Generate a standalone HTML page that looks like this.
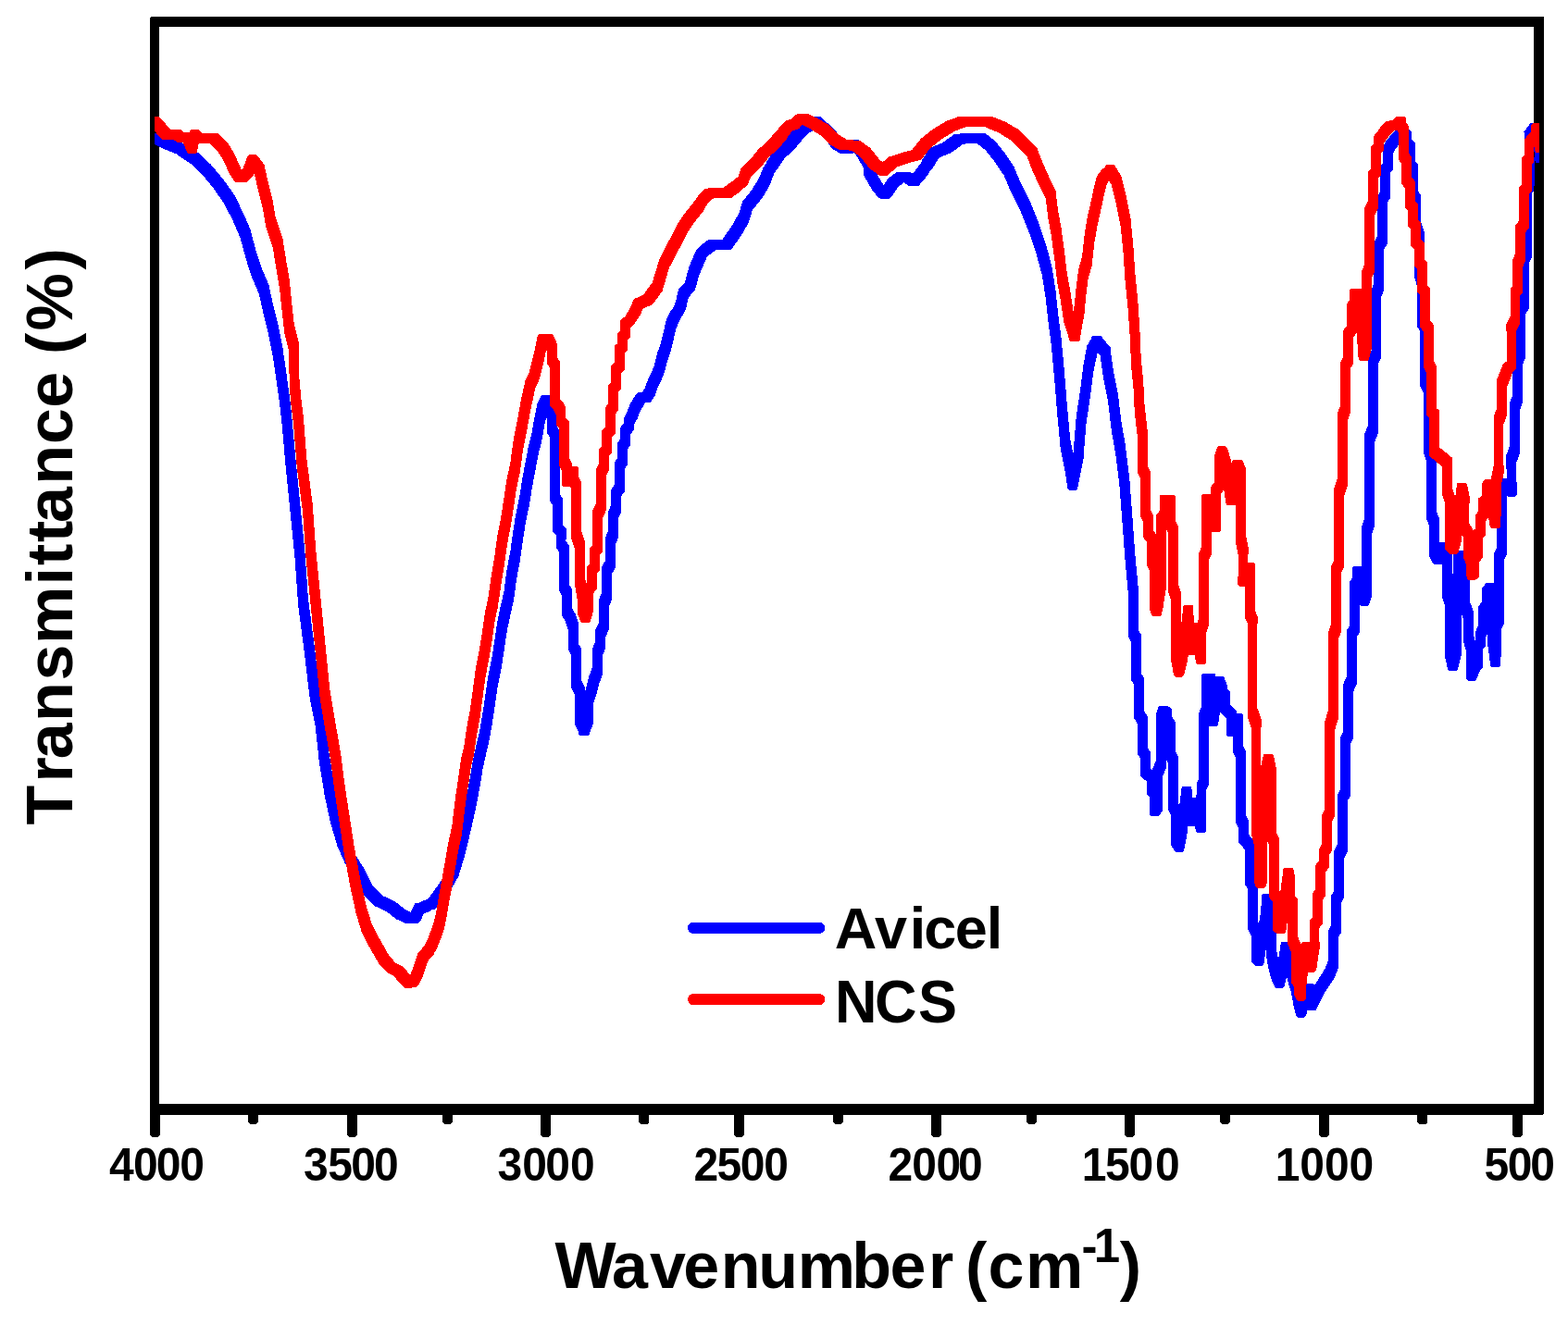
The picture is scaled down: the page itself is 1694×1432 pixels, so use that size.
<!DOCTYPE html>
<html lang="en"><head><meta charset="utf-8"><title>FTIR spectra: Avicel vs NCS</title>
<style>
html,body{margin:0;padding:0;background:#fff;}
body{width:1694px;height:1432px;overflow:hidden;}
svg{display:block;}
text{font-family:"Liberation Sans",sans-serif;font-weight:bold;fill:#000;}
</style></head><body>
<svg width="1694" height="1432" viewBox="0 0 1694 1432">
<rect x="0" y="0" width="1694" height="1432" fill="#fff"/>
<defs><clipPath id="plot"><rect x="166.9" y="23.4" width="1495.6" height="1175.6"/></clipPath></defs>
<g id="frame" fill="#000" stroke="none" shape-rendering="crispEdges">
<path fill-rule="evenodd" d="M163.6,18.1H1668V1203.2L1666.4,1204.8H162V19.7ZM171.95,28.9V1193.1H1657.2V28.9Z"/>
<path d="M162.00,1200H172.80V1226.9L170.80,1228.9H164.00L162.00,1226.9Z"/>
<path d="M374.90,1200H385.70V1226.9L383.70,1228.9H376.90L374.90,1226.9Z"/>
<path d="M584.00,1200H594.80V1226.9L592.80,1228.9H586.00L584.00,1226.9Z"/>
<path d="M793.00,1200H803.80V1226.9L801.80,1228.9H795.00L793.00,1226.9Z"/>
<path d="M1006.00,1200H1016.80V1226.9L1014.80,1228.9H1008.00L1006.00,1226.9Z"/>
<path d="M1215.00,1200H1225.80V1226.9L1223.80,1228.9H1217.00L1215.00,1226.9Z"/>
<path d="M1425.20,1200H1436.00V1226.9L1434.00,1228.9H1427.20L1425.20,1226.9Z"/>
<path d="M1634.20,1200H1645.00V1226.9L1643.00,1228.9H1636.20L1634.20,1226.9Z"/>
<path d="M268.10,1200H278.90V1213.0L276.90,1215.0H270.10L268.10,1213.0Z"/>
<path d="M478.10,1200H488.90V1213.0L486.90,1215.0H480.10L478.10,1213.0Z"/>
<path d="M690.40,1200H701.20V1213.0L699.20,1215.0H692.40L690.40,1213.0Z"/>
<path d="M900.00,1200H910.80V1213.0L908.80,1215.0H902.00L900.00,1213.0Z"/>
<path d="M1109.10,1200H1119.90V1213.0L1117.90,1215.0H1111.10L1109.10,1213.0Z"/>
<path d="M1318.10,1200H1328.90V1213.0L1326.90,1215.0H1320.10L1318.10,1213.0Z"/>
<path d="M1531.20,1200H1542.00V1213.0L1540.00,1215.0H1533.20L1531.20,1213.0Z"/>
</g>
<g id="curves" fill-rule="evenodd" stroke="none" shape-rendering="crispEdges">
<path fill="#0000ff" d="M190.8,166.8L205.6,176.6L217.2,187.3L229.3,201.8L241.7,219.2L241.9,219.4L251.9,239.2L259.3,256.6L259.5,256.8L265.4,278.8L265.4,279L271.8,298.8L271.8,299.1L279.3,316.6L279.6,316.8L284.5,338.9L289.5,359L294.5,383.9L294.6,384L298.6,411.3L302.1,436.4L304.6,458.8L308.6,503.8L318.6,603.8L322.1,652.9L322.1,653.8L328.6,703.8L334.5,753.2L334.5,753.9L340.5,783.9L340.6,784L344.5,820.8L344.5,821.4L350.5,858.5L350.5,858.9L356.9,888.6L356.9,889L364.3,913.7L364.3,914.1L372.2,931.9L372.2,932.2L381.9,946.8L391.7,966.4L391.7,966.7L393.3,968.3L405.8,979.8L406.1,979.8L418.2,985.6L428.1,993.5L428.7,993.5L437.1,997.8L443.8,997.8L443.9,997.9L452.1,997.9L453.7,996.3L458.4,986.6L460.3,986.6L465.8,983.9L465.9,983.7L468.9,982.6L470,982.6L471.6,981L476.4,975.8L476.7,975.8L478.3,974.2L486.8,962.2L486.8,962.1L495.7,946.6L495.7,945.9L503.1,921.5L503.1,921.2L509.5,893.9L515.5,866.4L519.5,843.9L521.9,829L522,828.9L524.9,815.9L528.9,798.9L528.9,798.5L532,780.9L534.8,761.8L537.8,741L537.9,740.9L542,720.9L542,720.5L544.8,701.8L547.9,681L548,680.9L552,661.9L555.3,647.9L555.3,647.1L558,626L558.1,625.9L562.1,604.9L562.1,604.5L564.9,583.9L567.9,565L572.1,544.9L574.9,526.9L578.1,509.9L582.1,489L585.3,476.9L585.3,476.5L588,460.9L590.2,450.3L591,454.9L591.2,455.1L591.2,468.7L594.2,472.7L594.2,541.2L597.1,546.3L597.1,574.7L601,578.8L601,592.7L604.1,596.2L604.1,638.7L607.2,643.8L607.2,657L607,657.1L607,664.9L610.9,671.8L613.9,680.9L614.1,681L614.1,702.7L617.2,707.8L617.2,734.9L617,735.1L617,742.9L621,750.9L621.2,751.1L621.2,775.1L621.1,775.2L621.1,782.8L624,788.8L624.2,789L625.4,792.4L625.4,793.5L627,795.1L635,795.1L636.6,793.5L640.8,782L640.8,774L640.5,773.7L640.5,761.1L640.7,760.9L643.9,752L644,751.9L647.3,738.9L651,728.9L651,721.1L650.8,720.8L650.8,709L650.9,708.8L653.9,700.8L653.9,693.2L653.8,693L653.8,689.1L654,688.9L657.7,680.9L657.7,673.1L657.5,672.9L657.5,655.9L657.7,655.8L660.7,648.8L660.7,641.2L660.5,641.1L660.5,621L660.7,620.9L664.7,613.9L664.7,606.1L664.5,606L664.5,588.9L664.7,588.8L667.7,581.8L667.7,574.2L667.5,574.1L667.5,561L667.7,560.8L670.9,553.8L670.9,546.2L670.8,546L670.8,536.9L674.8,531.3L674.8,523.7L674.7,523.6L674.7,506.7L677.8,502.7L677.8,485.7L680.8,481.7L680.8,469.9L684.8,464.8L684.8,458.7L687.5,454.3L688,453.9L691,445.9L694.9,438.9L694.9,438.7L697.3,434.8L702.3,434.8L703.9,433.2L707.9,426.9L711,417.9L714.9,409.9L714.9,409.7L717.9,402.1L718,401.9L721,390L725,379L725,378.7L727.9,365.9L730.7,354.1L730.8,354L735.6,344L735.6,343.3L736.8,341.7L737.7,340.8L740.8,334.2L741,333.9L744,321.1L750.8,314L750.8,313.8L755.5,296.8L755.7,296.6L763.2,279.1L763.2,278.5L765.8,275.6L766,275.6L773.6,270.2L773.8,269.9L780.4,269.9L780.8,270.4L789.2,270.4L790.8,268.8L802.7,251.7L802.7,251.5L809.5,239.1L809.5,238.5L812.9,227.1L813.3,226.7L823.3,214.2L823.3,214.1L831,201.6L831,201.3L835.9,189L835.9,188.5L838.4,184.3L839.8,182.9L848.3,170.2L853.7,165.8L854.2,165.8L855.8,164.2L865.7,152.3L874.7,143.3L880.6,139.7L893.1,151.7L897.4,159L899,160.6L907.5,166L915.5,166L915.7,165.8L921.8,165.8L922.9,165.1L926.1,169.8L929.9,176.2L933,182.3L933,188.5L936.1,194.8L943.6,207.3L944.6,208.3L947.4,211.6L949,213.2L949.1,213.2L950.9,214.7L952.8,214.7L952.8,214.8L961.2,214.8L962.8,213.2L970.7,201.8L976.5,197.3L981.4,200.8L992.3,200.8L993.9,199.2L997.3,195.2L998.5,193.9L1003.9,186.7L1003.9,186.2L1005.6,183.5L1007.3,181.9L1015,170.2L1026.2,165.8L1026.7,165.8L1039.2,156.8L1039.8,156.2L1046.3,154.8L1055.3,154.8L1055.8,155.3L1064.9,162.5L1074.3,174.3L1084.2,189.2L1084.5,189.4L1091.8,206.6L1101.8,226.6L1101.9,226.7L1111.9,251.6L1119.4,274L1119.5,274.1L1125.5,296.4L1125.6,296.6L1129.6,321.4L1132.6,348.8L1135.6,371.4L1139.1,408.8L1142.1,446.3L1145.5,482.7L1145.5,483.9L1150.5,508.9L1150.6,509L1153.3,527.7L1153.3,528.1L1154.9,529.7L1162.6,529.7L1164.2,528.1L1170.5,496.4L1170.5,494.9L1173.4,458.9L1173.4,458.8L1177.9,428.8L1181.4,401.5L1181.5,401.4L1185.5,381.6L1185.7,381.2L1188.2,384.2L1188.7,384.7L1192,408.4L1192,408.9L1197,433.9L1197.1,434L1200.5,463.3L1200.5,463.9L1204.9,488.9L1205,488.9L1209.4,523.9L1212.2,560.8L1215.4,603.8L1219,643.8L1219.1,643.9L1219.1,680.1L1219,680.2L1219,687.8L1222.2,693.9L1222.2,735.7L1225.3,739.7L1225.3,768L1225.1,768.1L1225.1,775.9L1229,782.9L1229.2,783L1229.2,815.7L1232.2,819.7L1232.2,830.9L1232,831.1L1232,838.9L1233.6,840.5L1239.1,844.5L1239.1,858.7L1240.7,860.3L1242.1,861.2L1242.1,880.8L1243.7,882.4L1251.3,882.4L1252.9,880.8L1256.1,875.8L1256,839.1L1256.3,838.9L1259.9,829.9L1259.9,822.1L1259.7,821.9L1259.7,820.3L1262.1,825.8L1262.2,825.9L1262.2,875.7L1265.3,880.8L1265.2,913.8L1268.3,918.5L1268.3,918.9L1269.9,920.5L1277.6,920.5L1279.2,918.9L1283,898.9L1283,898L1283.5,892.5L1290.5,892.5L1292,898.4L1293.6,900L1301.4,900L1303,898.4L1303,890.6L1302.9,890L1303.2,853.8L1305.9,848.7L1305.6,783.8L1306.8,784.9L1314.4,784.9L1316,783.3L1318,770L1325,776.8L1325,785.1L1324.5,785.9L1324.5,794.1L1326.1,795.7L1332.1,795.7L1332.2,813.8L1335.2,819.9L1335.2,881.1L1335.1,881.2L1335.1,888.8L1338.2,894.9L1338.2,901.6L1337.9,902L1337.9,910L1345,918.4L1344.9,955.8L1348.1,960.8L1348.1,996L1347.9,996.1L1347.9,1003.9L1351.6,1010.9L1351.8,1011L1351.8,1038.7L1354.6,1042L1354.6,1042.3L1356.2,1043.9L1363.8,1043.9L1365.4,1042.3L1367.9,1023.9L1368.2,1022.4L1368.2,1025.9L1368,1026.1L1368,1033.9L1370.9,1048.5L1370.9,1049L1374.7,1062L1375.4,1062.6L1376.5,1065.2L1376.5,1065.9L1378.1,1067.5L1385.9,1067.5L1387.5,1065.9L1390.2,1055.4L1390.9,1058.7L1390.9,1059L1394.7,1072L1394.8,1072.1L1397.9,1088.9L1398,1089L1400.1,1097.4L1400.1,1097.9L1401.7,1099.5L1409.5,1099.5L1411.1,1097.9L1412.6,1092L1413.1,1092.4L1420.7,1092.4L1422.3,1090.8L1425.1,1084.5L1425.6,1084L1430.6,1074L1430.6,1073.9L1435,1066.8L1435.7,1066.1L1442.3,1056.1L1442.3,1055.5L1445.9,1045.9L1445.9,1038.1L1445.7,1037.8L1445.7,1013.9L1448.9,1007.8L1448.9,1000.2L1448.8,1000.1L1448.8,975.9L1452,969.8L1452,962.2L1451.9,962.1L1451.9,928.1L1452.1,927.9L1455.9,919.9L1455.9,912.1L1455.7,911.9L1455.7,865.8L1458.8,860.7L1458.8,803.8L1461.9,798.7L1461.8,748.1L1462,747.9L1465.8,738.9L1465.8,731.1L1465.5,730.9L1465.5,688.8L1468.8,683.8L1468.7,653.7L1469.9,654.9L1477.6,654.9L1479.2,653.3L1482.1,643.9L1482.1,636.1L1481.9,636L1481.6,578L1481.7,577.9L1484.9,568.9L1484.9,561.1L1484.7,560.9L1484.7,478.2L1485,478L1489.1,468L1489.1,460L1488.8,459.8L1488.8,394L1488.9,393.8L1492.2,386.3L1492.2,378.7L1492,378.5L1492,321.5L1492.2,321.3L1495,313.8L1495,306.2L1494.9,306L1494.9,270L1495.1,269.9L1499.1,262.9L1499.1,255.1L1498.9,255L1498.8,218.7L1501.9,214.7L1501.9,186.4L1503.2,185.3L1504.8,183.7L1504.8,166.4L1508.3,160L1513,154.4L1514.4,153L1514.4,157.7L1518.2,161.3L1518.2,182.7L1519.8,184.3L1521.3,185.3L1521.3,213.7L1524.2,217.7L1524.2,239.7L1523.9,240L1523.9,248L1527.9,260L1528.2,260.3L1528.2,291L1528,291.1L1528,298.9L1530.8,308.9L1531,309L1530.9,352.8L1534.1,357.8L1533.8,407.9L1533.6,408.1L1533.6,415.9L1537.6,423.9L1537.8,424.1L1537.8,480.9L1537.6,481.1L1537.6,488.9L1540.8,497.9L1541,498.1L1541,552L1540.8,552.1L1540.8,559.9L1543.9,567.9L1544.1,568L1544.1,593L1543.9,593.1L1543.9,600.9L1547.6,608.1L1547.6,608.5L1549.2,610.1L1557.3,610.1L1558.2,609.2L1558.2,638L1558.1,638.2L1558.1,645.8L1560.8,653.8L1561,654L1561,699.9L1560.7,700.1L1560.7,707.9L1564,723.4L1565.6,725L1573.4,725L1575,723.4L1578.9,707.9L1578.9,700.1L1578.7,699.8L1578.7,667.8L1578.9,663.4L1581,668.9L1581.2,669.2L1581.2,686L1581.1,686.2L1581.1,693.8L1583.7,702.8L1583.8,703L1583.8,728.7L1584.3,732.8L1584.3,734.3L1585.9,735.9L1593.6,735.9L1595.2,734.3L1598.5,725.9L1598.5,725.6L1601.8,721.2L1601.8,701.5L1603.3,700.3L1604.9,698.7L1604.9,689.8L1606.6,686.1L1606.8,691.5L1606.8,693.8L1610.3,719.8L1611.9,721.4L1619.6,721.4L1621.2,719.8L1621.2,717.9L1621.8,703.7L1621.8,679.9L1624.9,673.8L1624.9,666.2L1624.8,666.1L1624.8,604.8L1627.7,599.7L1627.7,535.1L1629.2,536.6L1637.3,536.6L1638.9,535L1638.9,527L1638.6,526.6L1638.2,500L1638.3,499.9L1642,489.9L1642,482.1L1641.8,481.8L1641.8,443L1642,442.9L1645.1,434.9L1645.1,427.1L1644.9,427L1644.9,394L1645,393.8L1648,386.3L1648,378.7L1647.9,378.5L1647.9,340L1648.1,339.9L1652,332.9L1652,325.1L1651.8,325L1651.8,284.9L1651.9,284.8L1655,277.8L1655,270.2L1654.9,270.1L1654.9,208.7L1657.5,205.7L1657.6,176.3L1657.4,162.4L1658.6,174.8L1660.2,176.4L1662.5,176.4L1662.5,133.3L1662,132.8L1654,132.8L1652.4,134.4L1646.5,142.5L1646.5,150.5L1646.8,150.8L1646.8,173.7L1647,183.7L1647,198.3L1644.3,201.3L1644.3,270.1L1644.2,270.2L1641.1,277.2L1641.1,284.8L1641.2,284.9L1641.2,325L1641,325.1L1637.1,332.1L1637.1,339.9L1637.3,340L1637.3,378.5L1637.2,378.7L1634.2,386.2L1634.2,393.8L1634.3,394L1634.3,427L1634.1,427.1L1631,435.1L1631,442.9L1631.2,443L1631.2,481.8L1631,482.1L1627.2,492.1L1627.2,499.9L1627.4,500.2L1627.7,517.4L1623,517.4L1621.4,519L1621.4,519.4L1617,524.2L1617,531.8L1617.1,531.9L1617.1,592.2L1614.2,597.3L1614.2,630L1613.8,629.6L1606.2,629.6L1604.6,631.2L1600.6,636.2L1600.7,651.2L1596.9,655.3L1597,676.2L1594.2,682.2L1594.2,689.8L1594.3,689.8L1594.3,691L1593.5,691.6L1591.9,686.2L1591.8,686L1591.8,669.2L1592,668.9L1592,661.1L1588.3,651.1L1588,650.8L1588,631.8L1588.3,631.5L1588.3,623.5L1584.6,611L1584.5,610.9L1581.5,596.1L1579.9,594.5L1572.1,594.5L1570.5,596.1L1570.5,599.1L1569.2,626.3L1568.8,637.6L1568.8,588.3L1567.2,586.7L1562.4,586.7L1562,586.4L1554.7,586.4L1554.7,568L1554.9,567.9L1554.9,560.1L1551.7,552.1L1551.5,552L1551.5,498.1L1551.7,497.9L1551.7,490.1L1548.6,481.1L1548.4,480.9L1548.4,424.1L1548.6,423.9L1548.6,416.1L1544.6,408.1L1544.4,408L1544.8,350.2L1541.5,345.2L1541.5,309L1541.7,308.9L1541.7,301.1L1539,291.1L1538.8,291L1538.8,260.3L1539.1,260L1539.1,252L1535.1,240L1534.8,239.7L1534.8,210.3L1531.9,206.3L1531.9,177.3L1530.3,175.7L1528.8,174.7L1528.8,153.8L1525,150.2L1525.1,142.3L1523.5,140.7L1518.3,138.8L1517.9,138.5L1510.1,138.5L1502.5,146.1L1502.5,146.2L1497.5,152.1L1497.5,152.3L1494.1,158.7L1494.1,166.3L1494.2,166.4L1494.2,176.1L1492.9,177.2L1491.3,178.8L1491.3,207.3L1488.2,211.3L1488.3,255L1488.1,255.1L1484.1,262.1L1484.1,269.9L1484.3,270L1484.3,306L1484.2,306.2L1481.3,313.7L1481.3,321.3L1481.5,321.5L1481.5,378.5L1481.3,378.7L1478.1,386.2L1478.1,393.8L1478.2,394L1478.2,459.8L1477.9,460L1473.8,470L1473.8,478L1474.1,478.2L1474.1,560.9L1473.9,561.1L1470.8,570.1L1470.8,577.9L1470.9,578.1L1471.1,612L1465.2,612L1465,612.1L1462.8,612.1L1461.2,613.7L1461.2,624.2L1458.1,628.8L1458.1,676.2L1454.9,681.2L1455,730.9L1454.7,731.1L1451,740.1L1451,747.9L1451.2,748.1L1451.3,791.2L1448.2,796.3L1448.2,853.2L1445.1,858.3L1445.1,911.9L1444.9,912.1L1441.1,920.1L1441.1,927.9L1441.3,928.1L1441.3,962.1L1438.1,968.2L1438.1,975.8L1438.2,975.9L1438.2,1000.1L1435,1006.2L1435,1013.8L1435.1,1013.9L1435.1,1037.8L1434.9,1038.1L1431.3,1047.5L1430.9,1047.9L1424.3,1057.9L1424.3,1058.3L1420.1,1065.1L1420.1,1064.9L1418.5,1063.3L1410.3,1063.3L1408.7,1064.9L1406.7,1069.2L1405.8,1064.6L1405.8,1064L1402,1051L1398.5,1036.1L1394.9,1019.1L1393.3,1017.5L1385.5,1017.5L1383.9,1019.1L1381.1,1036.6L1379,1026.1L1378.8,1025.9L1378.8,1008.9L1378.9,1008.8L1378.9,1001.2L1376.5,981.1L1374.2,967.1L1372.6,965.5L1364.9,965.5L1363.3,967.1L1363.3,968.4L1362,986L1361.9,986.1L1360,998.3L1358.9,996.1L1358.7,996L1358.8,953.2L1355.5,948.2L1355.5,918.4L1355.9,918L1355.9,910L1348.8,901.6L1348.9,887.2L1345.8,881.1L1345.8,819.9L1345.9,819.8L1345.9,812.2L1342.9,806.1L1342.6,781.7L1343,781.1L1343,772.9L1341.4,771.3L1335.8,771.3L1335.8,768.5L1328.8,761.7L1328.8,747.3L1327.2,745.7L1325.9,745.3L1325.9,741.1L1322.5,732.1L1320.9,730.5L1313.4,730.5L1313.4,729.2L1311.8,727.6L1300,727.7L1298.4,729.3L1298.1,764.1L1298,764.2L1294.8,771.2L1294.8,778.8L1294.9,778.9L1295.3,841.3L1292.6,846.3L1292.5,861.5L1288.2,861.5L1287.4,851.2L1285.8,849.6L1278.2,849.6L1276.6,851.2L1274.2,870.4L1272.8,868.2L1272.8,825.9L1272.9,825.8L1272.9,818.2L1269.9,811.2L1269.8,811.1L1269.8,788L1269.9,787.8L1269.9,780.2L1265.7,774L1265.7,766.3L1264.1,764.7L1261,763L1260.7,762.6L1253.1,762.6L1251.5,764.2L1249,771.2L1249,778.8L1249.1,778.9L1249.1,821.9L1248.9,822.1L1245.2,831.1L1245.2,832.3L1242.8,830.5L1242.8,812.3L1239.8,808.3L1239.8,783L1240,782.9L1240,775.1L1236.1,768.1L1235.9,768L1235.9,732.3L1232.8,728.3L1232.8,693.9L1232.9,693.8L1232.9,686.2L1229.7,680.1L1229.7,643.9L1229.8,643.8L1229.8,636.2L1226.1,596.2L1223,553.2L1220.2,516.2L1215.9,481.6L1215.9,481.1L1211.5,456.1L1211.4,456.1L1208,426.8L1208,426.1L1203,401.1L1202.9,401L1199.8,378.7L1199.8,375.8L1190.8,364.8L1189.2,363.2L1180.8,363.2L1179.2,364.8L1179.2,365.4L1174.4,373.5L1174.4,374L1170.5,393.6L1170.5,394.2L1167.1,421.1L1162.6,451.2L1162.6,452.1L1159.6,488.5L1159.5,488.6L1159.3,489.9L1156.5,476.1L1156.4,476L1152.9,438.7L1149.9,401.2L1146.4,363.7L1143.4,341.1L1140.5,314.1L1140.5,313.6L1136.5,289.2L1136.5,288.6L1130.6,266.2L1130.6,266L1123.1,243.6L1123.1,243.5L1113.2,218.6L1113.2,218.4L1103.1,198.3L1095.8,181.2L1095.8,180.8L1085.8,165.8L1075.8,153.3L1074.2,151.7L1064.2,143.7L1055.8,143.7L1055.3,144.2L1038.7,144.1L1033.3,145.2L1030.8,145.2L1018.3,154.2L1018,154.5L1006.2,159.2L1005.8,159.2L1004.2,160.8L995.7,173.6L995.7,174.7L993.7,178L992.9,178.8L987.5,186.1L987.5,186.3L986.1,187.9L983.6,186.1L976.9,186.1L976.7,185.9L968.8,185.9L961.2,191.7L960.8,191.7L959.2,193.3L954.6,200L946.8,187.1L943.8,181L943.8,174.7L940.7,168.4L936.9,162.2L933.2,156.6L931.6,155L931.5,155L929.4,152.9L929.4,152.7L927.8,151.1L920.2,151.1L915,154.5L908,150L903.7,142.9L903.7,142.3L886.4,125.7L878.1,125.7L877.4,126.3L875.9,126.3L866.2,132.2L865.8,132.2L854.2,143.8L844.2,155.9L838.7,160.2L838.3,160.2L836.7,161.8L828.2,174.6L828.2,175.5L825.5,180.1L824.6,181L819.7,193.1L819.5,193.4L811.9,205.6L801.7,218.3L801.7,219.2L798.3,230.6L798,230.9L791.3,243.2L780,259.3L773.8,259.3L773.6,259L765.6,259L758,264.4L756.4,266L756.4,266.4L753.8,269.3L753.4,269.3L751.8,270.9L744.3,288.4L744.3,288.9L739.7,305.9L732.9,313L732.9,313.4L730,326.1L730,326.4L726.8,333.2L726.8,333.5L726.1,334.4L726,334.4L724.4,336L719.7,346L719.7,346.5L713.9,371L709.9,382L709.9,382.3L707,394.1L707,394.3L704,402L700,410.1L696.9,419.2L694,424L689.2,424L687.6,425.6L684.2,430.9L683.9,431.1L680.1,438.1L677,446.1L677,446.4L674.1,451.3L674.1,457.2L670.1,462.2L670.1,469.8L670.2,469.9L670.2,474.3L667.2,478.3L667.2,495.3L664.1,499.3L664.1,523.6L660.1,529.2L660.1,536.8L660.2,536.9L660.2,546L660.1,546.2L656.8,553.2L656.8,560.8L657,561L657,574.1L656.8,574.2L653.8,581.2L653.8,588.8L654,588.9L654,606L653.8,606.1L649.8,613.1L649.8,620.9L650,621L650,641.1L649.8,641.2L646.8,648.2L646.8,655.8L647,655.9L647,672.9L646.8,673.1L643,681.1L643,688.9L643.2,689.1L643.2,693L643.1,693.2L640.1,701.2L640.1,708.8L640.2,709L640.2,720.8L640,721.1L636.2,731.1L633,744.3L632,746.9L632,743.1L628,735.1L627.8,734.9L627.8,700.3L624.7,695.2L624.7,681L624.9,680.9L624.9,673.1L621.9,664.1L618,657.1L617.8,657L617.8,636.3L614.7,631.2L614.7,588.8L611.5,585.3L611.6,571.3L607.7,567.2L607.7,538.8L604.8,533.7L604.8,465.3L601.8,461.3L601.8,455.1L602,454.9L602,447.1L598.5,428.2L596.9,426.6L593.9,426.6L586.1,426.6L584.5,428.2L580.5,436.1L577,453.1L574.3,469L574.2,469.1L571.1,481.1L571.1,481.3L567.1,502.1L564,519.1L561.2,537L557,557.1L554,576.1L551.2,597.1L551.1,597.1L547.1,618.1L547.1,618.6L544.4,640L544.2,640.1L541,654.1L537,673.1L537,673.5L534,694.1L531.1,713L531,713.1L526.9,733.1L526.9,733.6L524,754.1L521.1,773.1L518,791L517.9,791.1L513.9,808.1L511,821.1L511,821.4L508.5,836.1L504.5,858.5L498.5,886.1L492,913.4L491.9,913.5L484.6,938.1L484.3,938.4L475.4,953.7L466.7,965.8L466.7,966.2L461.3,972.1L458.5,973.1L458.2,973.1L453.3,975.6L449.3,975.6L447.7,977.2L443.4,985.9L437.1,982.6L436.4,982L426.7,974.2L426.5,974.2L414.5,968.5L402.9,957.8L393.3,938.5L393.3,938.3L383.8,923.8L383.5,923.6L375.7,905.9L375.5,905.8L368.1,881L368,880.9L361.5,851.1L361.4,851L355.5,813.6L355.4,813.6L351.5,777L351.5,776.1L345.5,746.1L345.4,746L339.4,696.2L332.9,646.2L332.9,646.1L329.4,596.2L319.4,496.2L315.4,451.2L312.9,428.7L309.4,403.7L305.5,376.5L305.5,376.1L300.5,351.3L300.5,351.1L295.5,331L290.7,309.3L290.7,308.4L283.2,290.9L283,290.8L276.5,270.9L270.7,249L270.7,248.4L263.2,230.9L253.3,211L253.3,210.8L240.8,193.3L228.3,178.3L226.7,176.7L214.2,165.2L214.1,165.2L199.2,155.2L198.8,155.2L183.9,149.4L174,144.4L172.3,144.4L170.3,143.9L166.9,143.9L166.9,156.1L176,160.6L190.6,166.5Z"/>
<path fill="#ff0000" d="M192.2,154.4L197.9,154.4L201.9,164.4L203.5,166L211.5,166L213.1,164.4L213.1,163.5L214.7,154.6L226.4,154.6L234.4,162.4L241.8,174.1L242,174.4L248.3,189.1L249.4,190.1L252.6,195.1L254.2,196.7L266.8,196.7L271.7,191.6L272,191.6L273.6,190L274.7,187.4L278.5,203.9L283.5,223.9L283.6,224L286.9,243.1L286.9,244L294.4,266.5L294.6,266.7L298.5,291.4L302,311.4L302.1,311.5L304.6,336.3L307,357.7L307,358.9L312,378.9L312.2,379.2L312.6,410.6L312.6,416.3L314.6,438.8L317.1,458.9L320.6,503.1L320.6,503.8L327.1,553.8L327.1,553.9L330.6,603.8L345.5,753.2L345.5,753.9L350.5,783.9L357.1,821.4L362,858.9L372,923.9L378.5,958.9L384.4,986.1L384.4,986.5L390.3,1006L390.3,1006.6L399.3,1024.1L409.3,1041.6L417.3,1050.1L418.9,1051.7L419.7,1051.7L424.6,1054.2L435.2,1065.9L436.8,1067.5L445.2,1067.5L445.5,1067.2L449.8,1067.2L451.4,1065.6L455,1059.2L455.3,1058.9L459,1048.9L462,1039.2L468.5,1031.5L468.5,1031L472.1,1024.9L475.1,1017.1L475.3,1016.9L479,1006.9L482.1,993.9L482.1,993.5L485.2,974.9L489,954.9L495.2,919L499,901.9L499,901.1L502.9,868.9L505.9,848.8L508.8,829L508.9,828.9L512,815.9L512,815.3L514.8,795.9L518.9,773.9L521.9,750.8L524.8,729.9L524.9,729.9L528.9,708.9L532,689.9L534.8,670L534.9,669.9L537.9,655.9L537.9,655.5L542,627.9L545.2,608.9L548,588L548.1,587.9L552.1,566.9L555.2,546.9L558,528L558.1,527.9L562.1,508.9L562.1,508.3L565.4,484L565.5,483.9L569.5,463.9L573.5,442L578.5,418.7L581.9,412.2L582.1,411.9L585.3,399.9L588,388.9L590.1,378.1L591,380L591.3,380.3L591.3,393.7L594.2,397.7L594.2,438.7L597.1,441.6L597.1,441.8L600.7,447.9L600.7,459.7L602.3,461.3L604.2,462.9L604.2,495.1L604.1,495.2L604.1,502.8L607.2,508.9L607.2,515.3L606.8,515.9L606.8,524.1L608.4,525.7L615.9,525.7L617.2,527.8L617.2,573.2L616.9,573.5L616.9,581.5L621,594L621.3,594.3L621.3,625L621.1,625.1L621.1,632.9L623.9,648.9L624.1,649L624.1,656L624,656.2L624,663.8L627,670.8L627,671.2L628.6,672.8L636.4,672.8L638,671.2L641.3,658.9L641.3,651.1L641,650.8L641,641.4L644.9,636.3L644.8,619.7L647.8,616.2L647.8,599.7L650.9,596.2L650.9,560.1L651.1,559.9L655,551.4L655,543.6L654.8,543.4L654.8,513.8L657.8,508.7L657.8,492.7L660.8,489.7L660.8,472.8L664.7,468.7L664.7,447.7L667.8,443.7L667.8,424L669.2,422.8L670.8,421.2L670.8,403.1L673.1,401.3L674.7,399.7L674.7,381.5L676.2,380.3L677.8,378.7L677.8,367.7L680.8,364.7L680.8,354.1L683.3,352.3L684.9,350.7L687.1,347.4L687.7,346.8L691.1,341.4L691.5,340.9L695,333.1L703.4,329.8L704.2,329.8L705.8,328.2L715.8,314.2L715.8,313.4L719.6,301L722.9,289.4L723.2,289.1L736.3,264.1L742.5,251.8L750.9,239.3L761,226.7L761,225.8L764.4,220.5L770.4,214.6L773.3,213.9L781,213.9L781.4,214.3L789.6,214.3L799.4,207.2L800.8,205.8L806.7,200.8L808.3,199.2L808.3,198.8L811,191.4L819.4,183.5L821,181.9L831,169.4L831,169.3L836.5,164.8L836.9,164.8L838.5,163.2L849.8,150.7L849.8,149.9L853.9,144.1L853.9,143.9L856.6,141.2L862.8,139.4L864.4,137.8L864.4,137.6L866.3,135.3L867,134.9L872.8,137.7L873.4,138.2L885.6,145.6L895.8,155.8L896.2,155.8L905.9,161.7L908.9,161.7L920.4,162.8L920.9,163.2L929.9,170L939.2,181.7L940.8,183.3L941.1,183.3L949,189L949.8,189.8L958.2,189.8L969.2,180.8L969.6,180.4L984,175.6L984.2,175.4L992.5,173.3L994.2,173.3L995.8,171.7L1005.1,160.1L1016.9,150.6L1031.6,141.7L1031.9,141.5L1044,137.1L1044.3,136.8L1063.1,136.8L1063.5,137.1L1078.1,143L1078.4,143.2L1090.6,150.6L1109.6,169.6L1115.3,184.1L1121.8,199.1L1129.3,214.1L1129.7,214.5L1132,233.4L1132,233.9L1135.6,253.9L1139.1,278.9L1142,303.4L1142,303.9L1145.6,323.9L1148.9,345.5L1148.9,346.5L1155.4,367.5L1157,369.1L1165,369.1L1166.6,367.5L1166.6,366.7L1171.5,338.9L1171.5,338.1L1173.4,318.9L1175.6,301.1L1175.8,301L1179.8,286.5L1179.8,285.1L1182.5,261.4L1182.6,261.4L1185.7,242.7L1185.8,242.7L1190.1,223.9L1192.6,211.5L1192.6,211.4L1195.8,198.9L1198.1,195.5L1200.3,199.1L1200.6,199.4L1205.5,219L1210.5,243.9L1210.6,244L1213.6,273.8L1215.6,303.8L1218.6,333.8L1220.7,363.8L1222.1,395.1L1222.1,396.3L1224.6,421.3L1224.7,421.4L1225.6,442.2L1225.6,443.8L1229,473.8L1229.1,473.9L1229.1,503.1L1229,503.2L1229,510.8L1232.1,517.8L1232.2,517.9L1232.2,558.7L1235.3,563.8L1235.2,580.8L1239.1,585.9L1239.1,603.1L1239,603.2L1239,610.8L1242.1,617.8L1242.2,617.9L1242.2,658.7L1244.1,664.7L1245.7,666.3L1253.1,666.3L1254.7,664.7L1256,659L1256.2,658.9L1260.1,633.9L1260.1,626.1L1259.9,626L1259.9,572L1262.2,575.8L1262.2,630.9L1262,631.1L1262,638.9L1265.1,648.9L1265.3,649.1L1265.3,705.9L1265.1,706.1L1265.1,713.9L1268,729.5L1268,729.9L1269.6,731.5L1277.4,731.5L1279,729.9L1283,713.9L1283,713.3L1283.9,707.5L1290.7,707.5L1292,716.4L1293.6,718L1301.4,718L1303,716.4L1302.9,708.4L1303.2,683.9L1305.6,676.8L1305.6,669.2L1305.5,669.1L1305.5,606L1305.7,605.8L1308.9,598.8L1308.9,591.2L1308.8,591L1308.8,574.7L1309.5,575.4L1317.5,575.4L1319.1,573.8L1319.1,565.7L1318.8,564.8L1318.8,533.9L1322.3,529.5L1324.6,544.8L1326.2,546.4L1333.8,546.4L1335.1,545.2L1335.1,577.9L1334.9,578.1L1334.9,585.9L1337.5,598.9L1337.7,599.1L1337.7,623.1L1337.3,623.9L1337.3,632.1L1338.9,633.7L1345,633.7L1345,659.1L1344.8,659.2L1344.8,666.8L1347.7,673.8L1347.8,673.9L1347.8,765.7L1347.5,766L1347.5,774L1351.5,786L1351.8,786.3L1351.8,892.8L1351.6,893.1L1351.6,900.9L1354.7,912.9L1355,913.2L1354.9,953.7L1356.7,958.5L1358.3,960.1L1365.7,960.1L1367.3,958.5L1368.8,953.7L1368.8,908.8L1371.1,912.8L1371.1,962.1L1371,962.2L1371,969.8L1375,974.9L1375,1005.7L1376.5,1007.3L1379.6,1008.6L1379.9,1008.9L1387.6,1008.9L1389.2,1007.3L1391.3,992L1391.3,1011.9L1391.1,1012.1L1391.1,1019.9L1394.7,1028.9L1395,1029.1L1395,1062.7L1398.1,1066.2L1398.1,1075.7L1400.3,1080.1L1401.9,1081.7L1409.3,1081.7L1410.9,1080.1L1411.7,1059L1411.9,1058.9L1413.1,1050.5L1420.5,1050.5L1422.1,1048.9L1422.1,1048.3L1425.5,1025.8L1425.5,1018.2L1425.4,1018L1425.4,1002.7L1428.8,998.7L1428.8,972.7L1431.7,968.7L1431.7,942.9L1435.8,937.8L1435.7,924.8L1438.8,919.7L1438.8,887.8L1441.9,882.7L1441.9,789.2L1442.2,789L1446,776L1446,768L1445.7,767.8L1445.6,691.5L1445.8,691.4L1448.9,682.9L1448.9,675.1L1448.7,675L1448.7,619.9L1448.8,619.8L1451.9,612.8L1451.9,605.2L1451.8,605.1L1451.8,536.7L1452.1,536.5L1455.8,525L1455.8,517L1455.5,516.8L1455.5,455L1455.7,454.9L1458.9,446.4L1458.9,438.6L1458.7,438.5L1458.7,398.8L1461.8,393.7L1461.8,364.9L1465.6,359.8L1467.5,385.9L1467.5,388.5L1469.1,390.1L1477.1,390.1L1478.7,388.5L1482.1,376L1482.1,368L1481.8,367.8L1481.8,300.9L1481.9,300.8L1484.8,293.8L1484.8,286.2L1484.7,286.1L1484.7,233.1L1484.9,232.9L1488.9,224.9L1488.9,217.1L1488.7,216.9L1488.7,192.8L1491.8,189.7L1491.8,166.2L1494.7,162.7L1494.7,154.9L1498.8,149.8L1502.1,145.2L1506,141.3L1509.2,141L1511.3,143.7L1511.2,172.8L1514.5,177.8L1514.4,198.8L1518.2,203.9L1518.2,224.7L1521.3,227.8L1521.3,244.7L1524.2,247.7L1524.2,266.2L1525.8,267.8L1528.2,269.9L1528.2,287.7L1531.2,291.2L1531.2,316.2L1532.8,317.8L1534.3,319L1534.3,346.1L1534.2,346.2L1534.2,353.8L1538.3,358.9L1538.3,397.7L1541.2,402.8L1541.2,448.7L1542.8,450.3L1544.2,451.5L1544.2,483.3L1543.7,483.8L1543.7,492.2L1545.3,493.8L1558.2,504.4L1558.2,527L1558,527.1L1558,534.9L1561,543.9L1561.2,544L1561.2,593.7L1564.5,597L1564.5,597.4L1566.1,599L1573.9,599L1575.5,597.4L1579,583.9L1579,582.4L1579.4,578.6L1580.8,580.9L1581,581.1L1580.9,602.8L1583.6,608.8L1584.7,625.4L1586.3,627L1593.9,627L1594.2,626.6L1596.1,625.3L1597.7,623.7L1597.7,607.9L1601.9,602.8L1601.9,595.2L1601.8,595.1L1601.8,581.5L1603.2,580.3L1604.8,578.7L1604.8,563.7L1607.8,559.7L1607.8,557.2L1609.7,569.6L1611.3,571.2L1618.9,571.2L1620.5,569.6L1620.5,568.9L1621.9,553.8L1621.9,546.2L1621.8,546.1L1621.8,524.1L1622,523.9L1624.6,511.4L1624.6,503.6L1624.4,503.4L1624.4,458L1624.6,457.9L1627.7,449.9L1627.7,442.1L1627.5,442L1627.5,419.2L1627.8,418.9L1631.8,408.9L1631.8,408.6L1634.8,401.3L1636.5,400.3L1638,398.7L1638,358.1L1638.2,357.9L1642.2,349.9L1642.2,342.1L1642,341.9L1642,319.7L1644.9,316.2L1644.9,289L1645,288.8L1648,281.3L1648,273.7L1647.9,273.5L1647.9,251.4L1651.9,246.3L1651.9,238.7L1651.8,238.6L1651.8,209.7L1654.8,206.2L1654.8,177.7L1657.4,174.7L1657.4,159.4L1657.9,158.9L1658.6,163.8L1660.2,165.4L1662.5,165.4L1662.5,132.6L1657.2,132.6L1655.6,134.2L1655.6,134.4L1653.7,136.3L1653.7,142.6L1646.5,151L1646.5,159L1646.8,159.4L1646.8,167.3L1644.2,170.3L1644.2,198.8L1641.2,202.3L1641.2,238.6L1637.2,243.7L1637.2,251.3L1637.3,251.4L1637.3,273.5L1637.2,273.7L1634.2,281.2L1634.2,288.8L1634.3,289L1634.3,308.8L1631.5,312.3L1631.5,341.9L1631.3,342.1L1627.3,350.1L1627.3,357.9L1627.5,358.1L1627.5,390.7L1626.1,391.5L1625.6,391.5L1624,393.1L1620.9,400.8L1620.7,401.1L1616.7,411.1L1616.7,418.9L1617,419.2L1617,442L1616.8,442.1L1613.6,450.1L1613.6,457.9L1613.8,458L1613.8,503.4L1613.6,503.6L1611,516.1L1611,517.9L1604.4,517.9L1602.8,519.5L1602.8,519.9L1601,522.3L1601,535.2L1597.2,538.8L1597.2,552.3L1594.2,556.3L1594.2,571L1592.8,572.2L1591.7,573.3L1591.7,573.1L1587.5,566.1L1587.3,565.9L1587.3,544.1L1587.5,543.9L1587.5,536.1L1584.9,523.1L1583.3,521.5L1575.5,521.5L1573.9,523.1L1573.9,523.8L1572,539.8L1572,536.1L1569,527.1L1568.8,527L1568.8,504.2L1569.3,503.7L1569.3,495.3L1567.7,493.7L1554.8,483.1L1554.8,443.8L1553.2,442.2L1551.8,441L1551.8,395.3L1548.9,390.2L1548.9,358.9L1549,358.8L1549,351.2L1544.9,346.1L1544.9,311.3L1543.3,309.7L1541.8,308.5L1541.8,283.8L1538.8,280.3L1538.8,262.3L1537.2,260.7L1534.8,258.6L1534.8,240.3L1531.9,237.3L1531.9,220.3L1528.8,217.2L1528.9,196.2L1525,191.1L1525.1,170.2L1521.9,165.2L1521.9,136.3L1518.8,132.3L1518.5,128.7L1518.5,127.4L1516.9,125.8L1509.3,125.8L1504.1,130.2L1499.7,130.6L1498.2,130.6L1491.6,137.2L1491.6,137.3L1488.1,142.1L1484,147.2L1484,154.8L1484.1,154.9L1484.1,155.3L1481.2,158.8L1481.2,182.2L1478.1,185.3L1478.1,216.9L1477.9,217.1L1473.9,225.1L1473.9,232.9L1474.1,233.1L1474.1,286.1L1474,286.2L1471.1,293.2L1471.1,300.8L1471.2,300.9L1471.2,311.6L1459.7,311.7L1458.1,313.3L1458.1,323.7L1454.9,328.7L1455,352.1L1451.1,357.2L1451.1,364.8L1451.2,364.9L1451.2,386.2L1448.1,391.3L1448.1,438.5L1447.9,438.6L1444.8,447.1L1444.8,454.9L1445,455L1445,516.8L1444.7,517L1440.9,528.5L1440.9,536.5L1441.2,536.7L1441.2,605.1L1441.1,605.2L1438,612.2L1438,619.8L1438.1,619.9L1438.1,675L1437.9,675.1L1434.8,683.6L1434.8,691.4L1435,691.5L1435.1,767.8L1434.8,768L1431,781L1431,789L1431.3,789.2L1431.3,875.2L1428.2,880.3L1428.2,912.2L1425.1,917.3L1425.1,930.1L1421,935.2L1421,942.8L1421.1,942.9L1421.1,961.3L1418.2,965.3L1418.2,991.3L1414.8,995.3L1414.8,1018L1414.6,1018.2L1407.3,1018.2L1405.7,1019.8L1405.7,1020.8L1402.1,1012.1L1401.9,1011.9L1401.9,971.3L1398.8,968.2L1398.9,946.2L1397.3,939.6L1397.3,939.2L1395.7,937.6L1388.1,937.6L1386.5,939.2L1383.2,964L1381.7,962.1L1381.7,905.3L1378.8,900.2L1378.8,839.1L1379,838.9L1379,831.1L1375.9,816.1L1374.3,814.5L1366.5,814.5L1364.9,816.1L1362.4,827.6L1362.4,786.3L1362.7,786L1362.7,778L1358.7,766L1358.4,765.7L1358.4,673.9L1358.5,673.8L1358.5,666.2L1355.7,659.2L1355.5,659.1L1355.5,618.9L1356,618.1L1356,609.9L1354.4,608.3L1348.3,608.3L1348.3,599.1L1348.5,598.9L1348.5,591.1L1345.9,578.1L1345.7,577.9L1345.7,514L1345.9,513.9L1345.9,506.1L1342.8,498.3L1342.8,498.1L1341.2,496.5L1333.3,496.5L1331.7,498.1L1330.2,501.1L1329.6,497L1329.6,496L1325.8,484L1324.2,482.4L1316.3,482.4L1314.7,484L1314.7,484.5L1312,493.1L1312,500.9L1312.2,501L1312.2,521.1L1308.1,526.2L1308.1,533.8L1308.2,533.9L1308.2,535.1L1307.5,534.4L1299.5,534.4L1297.9,536L1297.9,544L1298.2,544.9L1298.2,591L1298.1,591.2L1294.8,598.2L1294.8,605.8L1295,606L1295,669.1L1294.9,669.2L1293.8,672.5L1289.8,672.5L1289.2,656.8L1289.2,655.2L1287.6,653.6L1279.9,653.6L1278.3,655.2L1275.9,678.5L1275.9,649.1L1276.1,648.9L1276.1,641.1L1273,631.1L1272.8,630.9L1272.8,568.3L1269.8,563.2L1269.8,536.3L1268.2,534.7L1254,534.7L1252.5,536.3L1252.5,552.3L1249.3,556.3L1249.3,577.6L1245.9,573.1L1245.9,556.3L1242.8,551.2L1242.8,517.9L1242.9,517.8L1242.9,510.2L1239.8,503.2L1239.7,503.1L1239.7,473.9L1239.8,473.8L1239.8,466.2L1236.4,436.2L1236.3,436.1L1235.4,415L1235.4,413.7L1232.9,388.7L1232.8,388.6L1231.4,356.2L1229.4,326.2L1226.4,296.2L1224.4,266.2L1221.5,237.1L1221.5,236.1L1216.5,211.3L1216.5,211.1L1211.7,191.8L1211.7,190.9L1205.2,180L1203.6,178.4L1195.4,178.4L1193.8,180L1193.8,180.4L1191.4,182.5L1191.1,182.5L1189.5,184.1L1184.7,191.1L1181.6,203.6L1181.6,203.9L1179.1,216L1174.7,234.8L1174.7,235.2L1171.6,253.6L1171.6,254.1L1168.9,278.4L1168.7,278.5L1164.7,293L1164.7,294.2L1162.6,311.2L1160.6,331L1160.5,331.1L1159.6,336.4L1156.5,316.1L1153,296.1L1152.9,296.1L1149.9,271.2L1146.5,246.1L1142.9,226.1L1140.7,208.4L1140.7,205.9L1133.1,190.8L1126.6,175.9L1120.8,161.3L1120.8,160.8L1099.2,139.2L1099,139.2L1086.6,131.8L1086.3,131.8L1071.5,125.9L1063.5,125.9L1063.1,126.2L1044.3,126.2L1044,125.9L1036,125.9L1023.8,130.3L1023.4,130.3L1008.4,139.2L1008.3,139.2L995.8,149.2L994.2,150.8L985,162.3L976.7,164.4L976,164.4L961.6,169.2L960.8,169.2L953.6,175.1L950.4,172.8L940.8,160.8L939.2,159.2L939.1,159.2L929.1,151.8L925.3,151.8L914.4,150.7L914.1,150.3L904.7,144.7L894.2,134.2L894,134.2L881.6,126.8L881.1,126.8L872.4,122.5L864.4,122.5L864.2,122.8L861.5,122.8L858.3,125.2L856.7,126.8L855.1,128.7L849,130.5L844.7,134.8L844.5,134.8L842.9,136.4L839.9,140.7L839.8,140.7L838.2,142.3L827,154.8L827,154.9L821.5,159.5L821.1,159.5L819.5,161.1L809.8,173.2L801.7,180.7L800.1,182.3L800.1,183.5L797.5,190.7L791.4,195.8L791.1,195.8L781.4,202.9L781,203.3L765.9,203.3L763.4,203.9L762,203.9L753.8,212L753.8,212.3L751,216.8L749.5,218.3L739.5,230.8L731.1,243.3L731.1,243.5L724.9,255.9L718.3,268.4L711.8,280.9L711.8,281.6L708.5,293L704.6,305.5L704.2,305.8L694.9,318.9L686.1,322.5L684.5,324.1L680.5,333.1L680.5,333.4L676.8,339.2L676.8,339.5L674.9,342.5L671.8,344.7L670.2,346.3L670.2,357.3L667.2,360.3L667.2,371L665.7,372.2L664.1,373.8L664.1,391.9L661.8,393.7L660.2,395.3L660.2,413.5L658.8,414.7L657.2,416.3L657.2,436.3L654.1,440.3L654.1,461.2L650.2,465.3L650.2,482.3L647.2,485.3L647.2,501.2L644.2,506.3L644.2,543.4L644,543.6L640.1,552.1L640.1,559.9L640.3,560.1L640.3,588.8L637.2,592.3L637.2,608.8L634.2,612.3L634.2,628.6L633,630.3L632.1,625.1L631.9,625L631.9,594.3L632.2,594L632.2,586L628.1,573.5L627.8,573.2L627.8,520.3L624.8,515.2L624.8,514.7L625.2,514.1L625.2,505.9L623.6,504.3L617.9,504.3L617.9,501.2L614.8,495.1L614.8,455.3L613.2,453.7L611.3,452.1L611.3,447.9L611.4,447.8L611.4,440.2L607.9,434.2L606.3,432.6L606.1,432.6L604.8,431.3L604.8,390.3L601.9,386.3L601.9,380.3L602.2,380L602.2,372L597.6,362.3L596,360.7L588,360.7L587.9,360.8L582.4,360.8L580.8,362.4L577,381.1L574.3,392L571.1,404.1L571.1,404.3L567.7,410.9L567.5,411.1L562.5,434.1L558.5,456.1L554.5,476.1L554.5,476.6L551.2,501L551.1,501.1L547.1,520.1L547.1,520.5L544.3,539.1L541.2,559.1L537.1,580.1L537.1,580.5L534.3,601.1L531.1,620.1L527,648L526.9,648.1L523.9,662.1L523.9,662.6L521.1,682.1L518,701.1L513.9,722.1L513.9,722.5L508,766.1L503.9,788.1L501.1,808L501,808.1L497.9,821.1L497.9,821.7L495.1,841.1L492.1,861.2L488.1,894L488,894.1L484.2,911.1L478,947.1L474.3,967.1L471.2,986L471.1,986.1L468,999.1L464.2,1009.1L464.2,1009.4L461.1,1017.2L457.9,1022.9L457.3,1023.5L451,1031L451,1031.4L448,1041L444.2,1051.1L444.2,1051.3L443.1,1053.4L435.8,1045.3L434.2,1043.7L433.1,1043.7L428,1041.2L420.7,1033.4L410.7,1015.8L401.7,998.4L401.5,998.1L395.6,978.5L395.5,978.4L389.5,951L382.9,916.1L372.9,851.1L368,813.6L361.5,776.1L356.5,746.1L356.4,746.1L341.4,596.2L337.9,547.1L337.9,546.2L331.4,496.2L331.4,496.1L327.9,451.2L325.4,431.1L323.4,408.7L323.3,408.6L322.9,379.1L323,378.9L323,371.1L318,351.1L317.9,350.9L315.4,328.7L313,304.4L313,303.6L309.5,283.6L305.6,259.5L305.6,258.5L298.1,236L297.9,235.8L294.5,216.5L294.5,216.1L289.5,196L285.7,179.4L285.7,178.4L278.8,169L277.2,167.4L269,167.4L267.4,169L267.4,169.2L262.4,182L262.4,182.4L261.1,183.7L259.7,181.5L259.7,180.9L253.2,166.1L253.2,165.9L245.8,153.8L235.2,143.5L226.8,143.5L226.4,143.9L218.8,143.9L215.3,141L214.1,139.8L206.4,139.8L204.8,141.4L204.4,143.4L199.5,143.4L194.8,139.9L187.2,139.9L187.2,139.9L184.7,139.9L170.8,125.5L166.9,125.5L166.9,141.8L175.8,151L184.2,151L184.7,150.6L187.2,150.6Z"/>
</g>
<g id="legend" fill="none" stroke-width="12" stroke-linecap="round" shape-rendering="crispEdges">
<line stroke="#0000ff" x1="749" y1="1002.9" x2="885.2" y2="1002.9"/>
<line stroke="#ff0000" x1="749" y1="1080.1" x2="885.2" y2="1080.1"/>
</g>
<text transform="translate(0,1024.8) scale(1,1.012)" font-size="63" x="901.7 945.0 982.8 998.3 1031.7 1065.8" y="0">Avicel</text>
<text transform="translate(0,1104.6) scale(1,1.04)" font-size="63" x="902.1 944.9 991.9" y="0">NCS</text>
<text transform="translate(0,1276.3) scale(1,1.03)" font-size="48" x="117.9 144.0 168.8 194.2" y="0">4000</text>
<text transform="translate(0,1276.3) scale(1,1.03)" font-size="48" x="327.9 354.3 379.2 404.1" y="0">3500</text>
<text transform="translate(0,1276.3) scale(1,1.03)" font-size="48" x="537.6 564.2 589.3 615.9" y="0">3000</text>
<text transform="translate(0,1276.3) scale(1,1.03)" font-size="48" x="749.4 774.6 799.8 825.3" y="0">2500</text>
<text transform="translate(0,1276.3) scale(1,1.03)" font-size="48" x="959.4 985.2 1011.5 1035.1" y="0">2000</text>
<text transform="translate(0,1276.3) scale(1,1.03)" font-size="48" x="1168.8 1194.1 1219.5 1248.1" y="0">1500</text>
<text transform="translate(0,1276.3) scale(1,1.03)" font-size="48" x="1377.7 1404.2 1430.9 1457.4" y="0">1000</text>
<text transform="translate(0,1276.3) scale(1,1.03)" font-size="48" x="1603.5 1628.8 1653.3" y="0">500</text>
<text font-size="70" x="599.6 661.1 702.1 738.2 778.7 819.2 861.7 920.2 961.5 1002.9 1023.0 1043.1 1067.6 1107.9" y="1392.3">Wavenumber (cm<tspan font-size="51" x="1168.5 1181.8" dy="-28.3">-1</tspan><tspan x="1209.7" dy="28.3">)</tspan></text>
<text transform="translate(77.9,900) rotate(-90)" font-size="70" x="8.5 54.5 79.7 120.0 164.6 203.9 267.5 289.1 314.1 335.0 376.3 420.1 459.3 488.1 517.0 542.6 608.6" y="0">Transmittance (%)</text>
</svg></body></html>
